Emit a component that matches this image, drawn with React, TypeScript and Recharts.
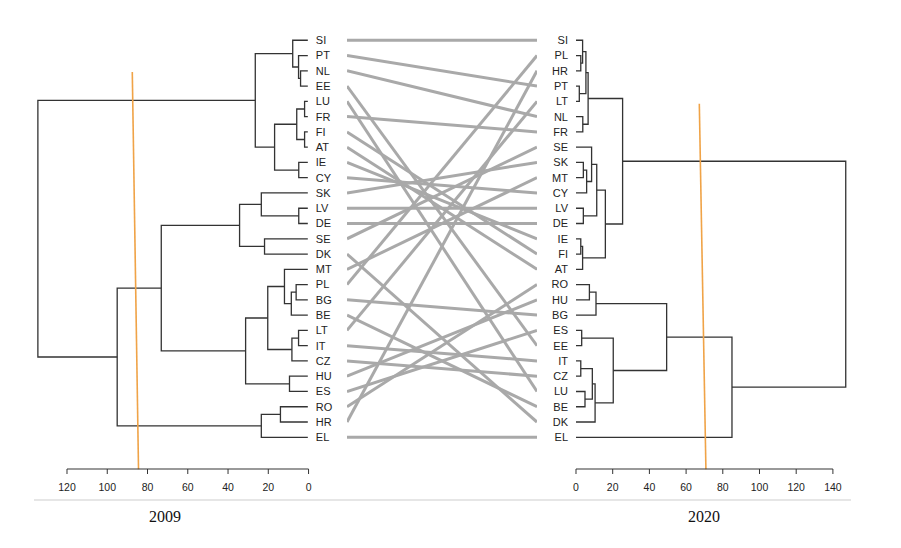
import React from 'react';
import { LineChart, Line, XAxis, YAxis } from 'recharts';

const leaves2009 = ['SI', 'PT', 'NL', 'EE', 'LU', 'FR', 'FI', 'AT', 'IE', 'CY', 'SK', 'LV', 'DE', 'SE', 'DK', 'MT', 'PL', 'BG', 'BE', 'LT', 'IT', 'CZ', 'HU', 'ES', 'RO', 'HR', 'EL'];
// [child A, child B, merge height]; numbers refer to earlier merges
const merges2009: [string | number, string | number, number][] = [
  ['NL', 'EE', 3.6],
  ['PT', 0, 4.6],
  ['SI', 1, 7.5],
  ['LU', 'FR', 1.6],
  ['FI', 'AT', 1.6],
  [3, 4, 5.5],
  ['IE', 'CY', 4.5],
  [5, 6, 16.5],
  [2, 7, 26.1],
  ['LV', 'DE', 4.5],
  ['SK', 9, 23.1],
  ['SE', 'DK', 21.5],
  [10, 11, 33.9],
  ['PL', 'BG', 5.8],
  [13, 'BE', 8.2],
  ['MT', 14, 11.6],
  ['LT', 'IT', 4.6],
  [16, 'CZ', 7.9],
  [15, 17, 19.9],
  ['HU', 'ES', 9.1],
  [18, 19, 30.9],
  [12, 20, 72.8],
  ['RO', 'HR', 13.6],
  [22, 'EL', 23.1],
  [21, 23, 94.7],
  [8, 24, 134.1],
];

const leaves2020 = ['SI', 'PL', 'HR', 'PT', 'LT', 'NL', 'FR', 'SE', 'SK', 'MT', 'CY', 'LV', 'DE', 'IE', 'FI', 'AT', 'RO', 'HU', 'BG', 'ES', 'EE', 'IT', 'CZ', 'LU', 'BE', 'DK', 'EL'];
const merges2020: [string | number, string | number, number][] = [
  ['PL', 'HR', 2.6],
  ['SI', 0, 3.6],
  ['PT', 'LT', 1.8],
  [1, 2, 5.4],
  ['NL', 'FR', 3.7],
  [3, 4, 6.6],
  ['SK', 'MT', 4.0],
  [6, 'CY', 5.8],
  ['SE', 7, 8.5],
  ['LV', 'DE', 4.0],
  [8, 9, 11.3],
  ['IE', 'FI', 2.6],
  [11, 'AT', 3.6],
  [10, 12, 16.0],
  [5, 13, 25.4],
  ['RO', 'HU', 7.3],
  [15, 'BG', 10.9],
  ['ES', 'EE', 3.1],
  ['IT', 'CZ', 2.6],
  ['LU', 'BE', 4.9],
  [18, 19, 8.9],
  [20, 'DK', 10.4],
  [17, 21, 20.3],
  [16, 22, 49.4],
  [23, 'EL', 85.0],
  [14, 24, 147.0],
];

const ticks2009 = [0, 20, 40, 60, 80, 100, 120];
const ticks2020 = [0, 20, 40, 60, 80, 100, 120, 140];
const cut2009 = [{ h: 87.2, y: 2.08 }, { h: 84.1, y: 28.09 }];
const cut2020 = [{ h: 67.2, y: 4.15 }, { h: 70.8, y: 28.09 }];
const years = ['2009', '2020'];

type Pt = { h: number; y: number };

function buildSegments(leaves: string[], merges: [string | number, string | number, number][]): Pt[][] {
  const nodes: Pt[] = [];
  const get = (c: string | number): Pt => (typeof c === 'number' ? nodes[c] : { h: 0, y: leaves.indexOf(c) });
  const segs: Pt[][] = [];
  merges.forEach(([a, b, h]) => {
    const A = get(a);
    const B = get(b);
    nodes.push({ h, y: (A.y + B.y) / 2 });
    segs.push([
      { h: A.h, y: A.y },
      { h, y: A.y },
      { h, y: B.y },
      { h: B.h, y: B.y },
    ]);
  });
  return segs;
}

const segs2009 = buildSegments(leaves2009, merges2009);
const segs2020 = buildSegments(leaves2020, merges2020);
const links = leaves2009.map((name, i) => ({
  name,
  data: [
    { x: 0, y: i },
    { x: 1, y: leaves2020.indexOf(name) },
  ],
}));

// layout
const ROW = 15.27;
const Y0 = 40;
const YDOM: [number, number] = [-1, 29];
const CH_TOP = Y0 - ROW * (0 - YDOM[0]);
const CH_H = ROW * (YDOM[1] - YDOM[0]);

const PXL = 2.013;
const ZERO_L = 308.3;
const HMAX_L = 140;
const PXR = 1.835;
const ZERO_R = 575.7;
const HMAX_R = 150;
const YAX_W = 30;

const TREE_COLOR = '#333333';
const LINK_COLOR = '#a9a9a9';
const CUT_COLOR = '#f0a347';
const FONT = '"Liberation Sans", Arial, sans-serif';

const leafTick = { fill: '#222', fontSize: 11, fontFamily: FONT };
const axisTick = { fill: '#222', fontSize: 10.5, fontFamily: FONT };

const abs = (left: number, top: number): React.CSSProperties => ({ position: 'absolute', left, top });

export default function App() {
  const leftPlotW = HMAX_L * PXL;
  const rightPlotW = HMAX_R * PXR;
  const axL0 = ZERO_L - 120 * PXL;
  const axLW = 120 * PXL;
  const axRW = 140 * PXR;
  const AXM = 15;
  return (
    <div style={{ position: 'absolute', left: 0, top: 0, width: 901, height: 548, background: '#fff', overflow: 'hidden' }}>
      {/* 2009 dendrogram */}
      <div style={abs(ZERO_L - leftPlotW, CH_TOP)}>
        <LineChart width={leftPlotW + YAX_W} height={CH_H} margin={{ top: 0, right: 0, bottom: 0, left: 0 }}>
          <XAxis type="number" dataKey="h" domain={[0, HMAX_L]} reversed hide />
          <YAxis
            type="number"
            orientation="right"
            width={YAX_W}
            domain={YDOM}
            reversed
            ticks={leaves2009.map((_, i) => i)}
            interval={0}
            tickFormatter={(v: number) => leaves2009[v] ?? ''}
            axisLine={false}
            tickLine={false}
            tick={leafTick}
          />
          {segs2009.map((d, i) => (
            <Line key={'l' + i} data={d} dataKey="y" type="linear" stroke={TREE_COLOR} strokeWidth={1.3} dot={false} activeDot={false} isAnimationActive={false} />
          ))}
          <Line data={cut2009} dataKey="y" type="linear" stroke={CUT_COLOR} strokeWidth={1.6} dot={false} activeDot={false} isAnimationActive={false} />
        </LineChart>
      </div>

      {/* tangle links */}
      <div style={abs(347, CH_TOP)}>
        <LineChart width={190} height={CH_H} margin={{ top: 0, right: 0, bottom: 0, left: 0 }}>
          <XAxis type="number" dataKey="x" domain={[0, 1]} hide />
          <YAxis type="number" domain={YDOM} reversed hide />
          {links.map((l) => (
            <Line key={l.name} data={l.data} dataKey="y" type="linear" stroke={LINK_COLOR} strokeWidth={3} dot={false} activeDot={false} isAnimationActive={false} />
          ))}
        </LineChart>
      </div>

      {/* 2020 dendrogram */}
      <div style={abs(ZERO_R - YAX_W, CH_TOP)}>
        <LineChart width={rightPlotW + YAX_W} height={CH_H} margin={{ top: 0, right: 0, bottom: 0, left: 0 }}>
          <XAxis type="number" dataKey="h" domain={[0, HMAX_R]} hide />
          <YAxis
            type="number"
            orientation="left"
            width={YAX_W}
            domain={YDOM}
            reversed
            ticks={leaves2020.map((_, i) => i)}
            interval={0}
            tickFormatter={(v: number) => leaves2020[v] ?? ''}
            axisLine={false}
            tickLine={false}
            tick={leafTick}
          />
          {segs2020.map((d, i) => (
            <Line key={'r' + i} data={d} dataKey="y" type="linear" stroke={TREE_COLOR} strokeWidth={1.3} dot={false} activeDot={false} isAnimationActive={false} />
          ))}
          <Line data={cut2020} dataKey="y" type="linear" stroke={CUT_COLOR} strokeWidth={1.6} dot={false} activeDot={false} isAnimationActive={false} />
        </LineChart>
      </div>

      {/* height axes */}
      <div style={abs(axL0 - AXM, 459)}>
        <LineChart width={axLW + 2 * AXM} height={40} data={ticks2009.map((t) => ({ h: t }))} margin={{ top: 0, right: AXM, bottom: 0, left: AXM }}>
          <XAxis
            type="number"
            dataKey="h"
            domain={[0, 120]}
            reversed
            ticks={ticks2009}
            interval={0}
            height={30}
            tickSize={5}
            tickMargin={10}
            axisLine={{ stroke: '#333' }}
            tickLine={{ stroke: '#333' }}
            tick={axisTick}
          />
          <YAxis hide domain={[0, 1]} />
        </LineChart>
      </div>
      <div style={abs(ZERO_R - AXM, 459)}>
        <LineChart width={axRW + 2 * AXM} height={40} data={ticks2020.map((t) => ({ h: t }))} margin={{ top: 0, right: AXM, bottom: 0, left: AXM }}>
          <XAxis
            type="number"
            dataKey="h"
            domain={[0, 140]}
            ticks={ticks2020}
            interval={0}
            height={30}
            tickSize={5}
            tickMargin={10}
            axisLine={{ stroke: '#333' }}
            tickLine={{ stroke: '#333' }}
            tick={axisTick}
          />
          <YAxis hide domain={[0, 1]} />
        </LineChart>
      </div>

      {/* separator and year captions */}
      <div style={{ position: 'absolute', left: 34, top: 499, width: 817, height: 2, background: '#e6e6e6' }} />
      {years.map((yr, i) => (
        <div
          key={yr}
          style={{
            position: 'absolute',
            left: i === 0 ? 165 : 704,
            top: 517,
            transform: 'translate(-50%, -50%)',
            fontFamily: '"Liberation Serif", "Times New Roman", serif',
            fontSize: 16,
            color: '#111',
            whiteSpace: 'nowrap',
          }}
        >
          {yr}
        </div>
      ))}
    </div>
  );
}
